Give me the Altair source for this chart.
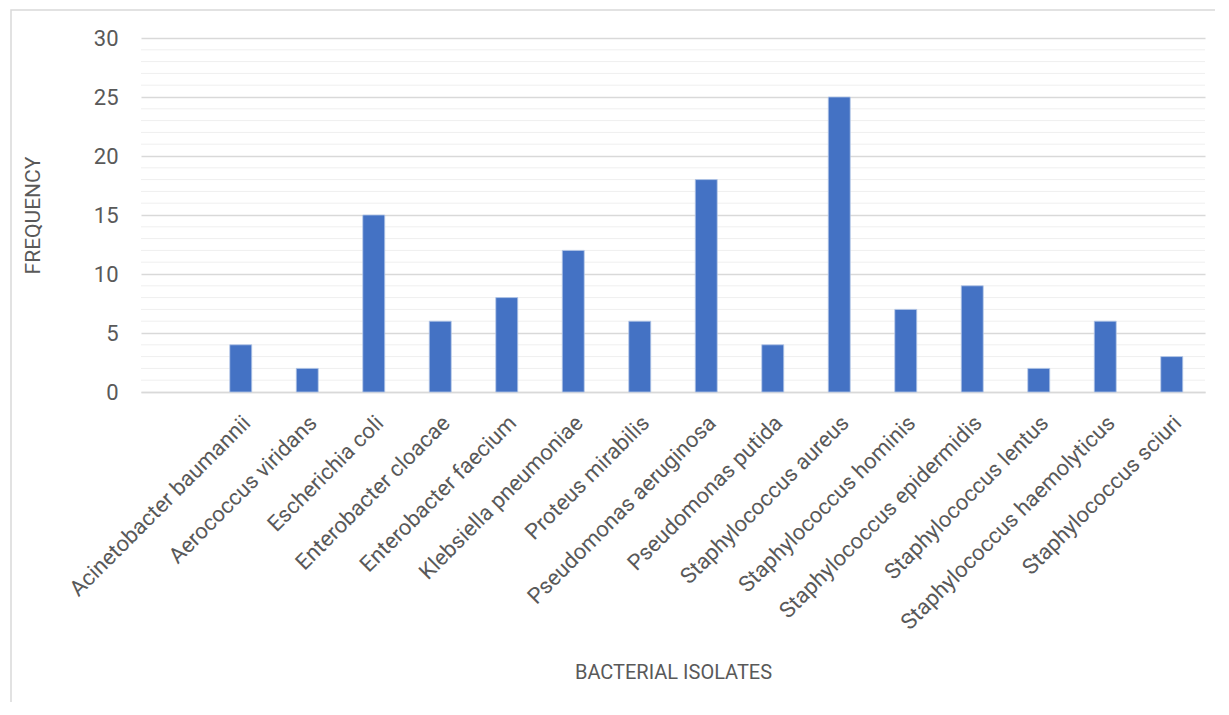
import altair as alt
import pandas as pd

categories = [
    "",
    "Acinetobacter baumannii",
    "Aerococcus viridans",
    "Escherichia coli",
    "Enterobacter cloacae",
    "Enterobacter faecium",
    "Klebsiella pneumoniae",
    "Proteus mirabilis",
    "Pseudomonas aeruginosa",
    "Pseudomonas putida",
    "Staphylococcus aureus",
    "Staphylococcus hominis",
    "Staphylococcus epidermidis",
    "Staphylococcus lentus",
    "Staphylococcus haemolyticus",
    "Staphylococcus sciuri",
]
frequency = [None, 4, 2, 15, 6, 8, 12, 6, 18, 4, 25, 7, 9, 2, 6, 3]
major_ticks = [0, 5, 10, 15, 20, 25, 30]
minor_ticks = [v for v in range(0, 31) if v % 5 != 0]

df = pd.DataFrame({"isolate": categories, "freq": frequency}).dropna()
minor_df = pd.DataFrame({"v": minor_ticks})

FONT = "Roboto"
CAT_FONT = "Roboto"
TXT = "#595959"
W, H = 1064, 354

xscale = alt.Scale(domain=categories, paddingInner=0.67, paddingOuter=0.335)
yscale = alt.Scale(domain=[0, 30], nice=False)

yaxis = alt.Axis(title="FREQUENCY", values=major_ticks, grid=True,
                 gridColor="#d9d9d9", gridWidth=1.3, ticks=False,
                 domain=False, labelPadding=23,
                 labelFont=FONT, labelFontSize=22, labelColor=TXT,
                 titleFont=FONT, titleFontSize=21, titleColor=TXT,
                 titleFontWeight="normal", titleX=-108,
                 titleBaseline="middle", titleAngle=-90)

minor = alt.Chart(minor_df).mark_rule(color="#efefef", strokeWidth=1).encode(
    y=alt.Y("v:Q", scale=yscale, axis=yaxis),
)

bars = alt.Chart(df).mark_bar(color="#4472C4", stroke="#b4c7e7", strokeWidth=0.8).encode(
    x=alt.X("isolate:N", scale=xscale, sort=categories,
            axis=alt.Axis(title="BACTERIAL ISOLATES", labelAngle=-45,
                          labelAlign="right", labelBaseline="middle",
                          labelPadding=27, labelOffset=6, ticks=False,
                          domainColor="#d9d9d9", domainWidth=1.5,
                          labelFont=CAT_FONT, labelFontSize=22, labelColor=TXT,
                          labelLimit=400,
                          titleFont=FONT, titleFontSize=20, titleColor=TXT,
                          titleFontWeight="normal", titleY=280,
                          titleBaseline="middle")),
    y=alt.Y("freq:Q", scale=yscale, axis=yaxis),
)

border = alt.Chart(pd.DataFrame({"k": [0]})).mark_rect(
    fill=None, stroke="#d9d9d9", strokeWidth=1.5
).encode(
    x=alt.value(-130), x2=alt.value(W + 40),
    y=alt.value(-28), y2=alt.value(H + 340),
)

chart = alt.layer(minor, bars, border).properties(
    width=W, height=H,
    background="white",
    autosize=alt.AutoSizeParams(type="none"),
    padding={"left": 133, "top": 30, "right": 10, "bottom": 310},
).configure_view(stroke=None)

chart.save("out.html", embed_options={"renderer": "svg", "actions": False})
